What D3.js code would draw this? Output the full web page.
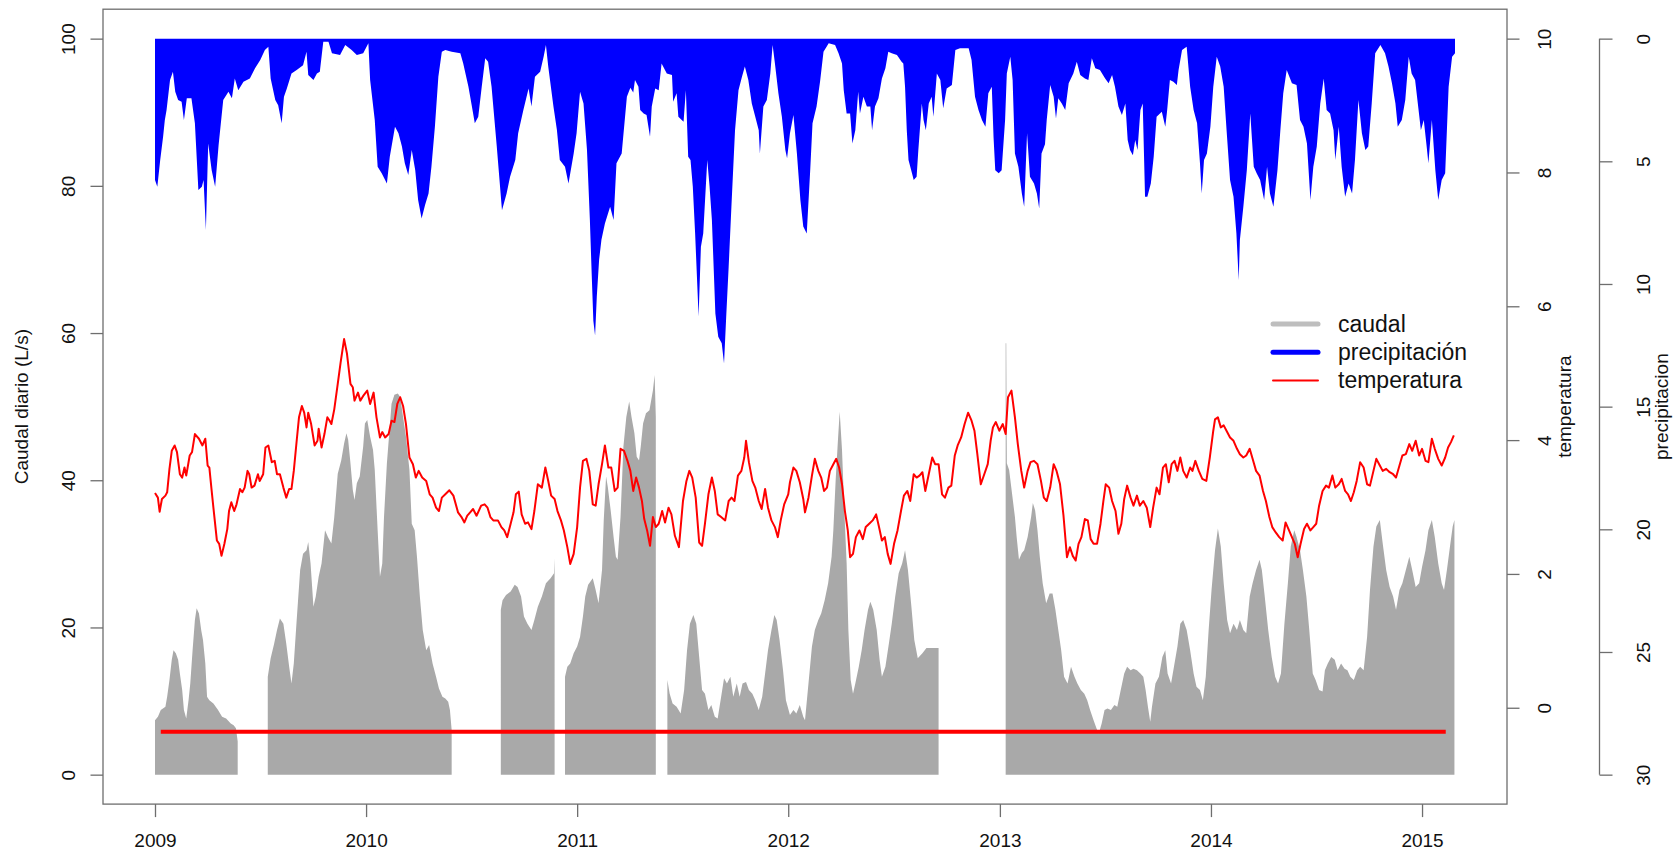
<!DOCTYPE html>
<html>
<head>
<meta charset="utf-8">
<script src="https://d3js.org/d3.v7.min.js"></script>
<style>
    body { margin: 0; background: #fff; }
    svg text { font-family: "Liberation Sans", Arial, Helvetica, sans-serif; font-size: 19px; fill: #111; }
</style>
</head>
<body>
<svg id="grafico" width="1680" height="859"></svg>
<script>
    // series diarias, indexadas por dia desde 2009-01-01
    var anios = [2009, 2010, 2011, 2012, 2013, 2014, 2015];
    var ticksCaudal = [0, 20, 40, 60, 80, 100];
    var ticksTemp = [0, 2, 4, 6, 8, 10];
    var ticksPrecip = [0, 5, 10, 15, 20, 25, 30];

    var diasPrecip = [0, 4, 9, 14, 17, 20, 26, 31, 35, 40, 46, 50, 55, 63, 69, 75, 81, 84, 88, 92, 98, 104, 110, 118, 127, 133, 138, 144, 153, 164, 173, 182, 190, 196, 200, 208, 213, 219, 223, 228, 236, 245, 256, 262, 265, 274, 280, 285, 291, 300, 306, 320, 329, 340, 349, 360, 369, 372, 380, 385, 392, 401, 406, 415, 421, 427, 432, 438, 444, 450, 455, 461, 467, 473, 478, 484, 490, 496, 502, 513, 528, 533, 542, 548, 553, 559, 565, 571, 576, 582, 591, 600, 608, 614, 623, 628, 637, 646, 651, 657, 666, 672, 676, 680, 689, 695, 700, 709, 715, 724, 729, 735, 741, 747, 752, 755, 758, 761, 764, 768, 772, 778, 787, 793, 798, 807, 816, 822, 827, 830, 836, 839, 845, 850, 856, 859, 865, 871, 876, 885, 894, 896, 902, 905, 914, 918, 922, 926, 930, 934, 940, 944, 948, 955, 959, 963, 969, 974, 980, 984, 988, 992, 997, 1003, 1009, 1015, 1020, 1026, 1032, 1038, 1044, 1046, 1052, 1058, 1064, 1068, 1072, 1078, 1084, 1090, 1093, 1098, 1104, 1110, 1116, 1121, 1127, 1133, 1137, 1144, 1150, 1156, 1165, 1176, 1182, 1188, 1191, 1196, 1202, 1206, 1211, 1216, 1219, 1225, 1231, 1237, 1240, 1245, 1251, 1257, 1263, 1268, 1274, 1283, 1291, 1294, 1297, 1300, 1303, 1309, 1312, 1317, 1320, 1326, 1329, 1333, 1338, 1343, 1346, 1352, 1358, 1363, 1369, 1378, 1384, 1392, 1407, 1412, 1418, 1424, 1430, 1436, 1441, 1447, 1450, 1453, 1459, 1464, 1470, 1473, 1479, 1483, 1487, 1493, 1499, 1503, 1508, 1513, 1520, 1525, 1529, 1533, 1539, 1542, 1548, 1554, 1558, 1562, 1568, 1574, 1580, 1588, 1594, 1600, 1608, 1614, 1620, 1626, 1634, 1643, 1649, 1655, 1660, 1666, 1672, 1678, 1682, 1686, 1691, 1695, 1699, 1704, 1708, 1712, 1716, 1722, 1727, 1732, 1741, 1747, 1750, 1755, 1761, 1767, 1770, 1776, 1784, 1790, 1796, 1802, 1807, 1810, 1814, 1819, 1825, 1830, 1836, 1842, 1848, 1853, 1859, 1865, 1870, 1874, 1876, 1882, 1888, 1894, 1900, 1905, 1911, 1918, 1923, 1928, 1934, 1941, 1946, 1951, 1957, 1966, 1974, 1980, 1986, 1992, 1998, 2003, 2009, 2015, 2021, 2026, 2032, 2038, 2041, 2047, 2052, 2058, 2064, 2070, 2075, 2081, 2087, 2093, 2098, 2104, 2110, 2119, 2127, 2133, 2139, 2145, 2149, 2156, 2162, 2168, 2173, 2179, 2185, 2189, 2194, 2199, 2202, 2208, 2214, 2219, 2225, 2231, 2237, 2243, 2248];
    var precip = [5.76, 6.04, 4.95, 4.0, 3.32, 2.91, 1.69, 1.35, 2.16, 2.5, 2.57, 3.32, 2.43, 2.43, 3.45, 6.17, 6.04, 5.76, 7.8, 4.27, 5.36, 6.04, 4.34, 2.5, 2.16, 2.43, 1.62, 2.1, 1.76, 1.62, 1.21, 0.87, 0.46, 0.33, 1.62, 2.5, 2.71, 3.45, 2.37, 2.03, 1.42, 1.28, 1.08, 0.53, 1.48, 1.69, 1.42, 1.35, 0.13, 0.13, 0.6, 0.67, 0.26, 0.46, 0.67, 0.6, 0.19, 1.69, 3.32, 5.22, 5.49, 5.9, 4.81, 3.59, 3.86, 4.4, 5.08, 5.56, 4.54, 5.36, 6.58, 7.33, 6.78, 6.31, 5.22, 3.59, 1.55, 0.53, 0.46, 0.53, 0.6, 1.01, 1.96, 2.77, 3.45, 3.18, 1.96, 0.8, 0.94, 1.96, 4.4, 6.99, 6.31, 5.63, 4.95, 3.86, 2.91, 2.03, 2.77, 1.55, 1.35, 0.74, 0.26, 1.14, 2.77, 3.72, 4.95, 5.22, 5.9, 4.68, 3.86, 2.16, 2.64, 4.54, 7.39, 9.5, 11.5, 12.1, 10.5, 9.0, 8.2, 7.53, 6.85, 7.39, 5.08, 4.68, 2.37, 2.0, 2.2, 1.69, 1.96, 2.91, 3.05, 3.11, 4.0, 2.77, 2.03, 2.1, 1.01, 1.42, 1.48, 2.57, 2.23, 3.18, 3.39, 2.1, 4.81, 4.95, 6.04, 7.94, 11.33, 8.48, 7.94, 4.95, 6.04, 7.39, 11.2, 12.15, 12.42, 13.24, 11.2, 9.3, 6.72, 3.73, 2.1, 1.55, 1.14, 1.69, 2.64, 3.18, 3.73, 4.68, 2.77, 2.5, 1.42, 0.26, 1.01, 2.23, 3.18, 4.54, 4.88, 3.86, 3.11, 4.68, 6.58, 7.66, 7.94, 5.36, 3.45, 2.77, 1.76, 0.53, 0.19, 0.26, 0.6, 1.01, 2.1, 3.05, 3.05, 4.27, 3.73, 2.16, 3.05, 2.37, 2.77, 2.77, 3.73, 2.77, 2.43, 1.62, 1.21, 0.53, 0.6, 0.67, 0.94, 1.01, 1.96, 3.73, 4.95, 5.49, 5.76, 5.63, 4.54, 2.64, 3.32, 3.73, 2.64, 2.37, 3.18, 1.42, 1.69, 2.84, 2.03, 1.89, 0.46, 0.39, 0.39, 0.87, 2.37, 2.91, 3.32, 3.59, 2.23, 1.96, 4.0, 5.36, 5.49, 5.36, 3.32, 1.42, 0.74, 1.69, 4.68, 5.22, 6.31, 6.85, 3.86, 5.63, 5.9, 6.31, 6.92, 4.68, 4.3, 3.32, 1.89, 2.37, 3.25, 2.43, 2.64, 2.91, 1.82, 1.42, 0.94, 1.48, 1.62, 1.69, 0.8, 1.21, 1.28, 1.62, 1.82, 1.48, 1.96, 2.77, 3.11, 2.64, 4.13, 4.54, 4.75, 4.13, 4.54, 2.91, 2.64, 6.44, 6.44, 5.9, 4.81, 3.18, 2.98, 3.59, 2.98, 1.69, 1.76, 1.89, 1.28, 0.46, 0.33, 1.96, 2.91, 3.45, 5.08, 6.31, 4.95, 4.68, 3.59, 1.96, 0.74, 1.14, 1.96, 3.73, 5.76, 6.44, 7.94, 9.84, 8.21, 6.85, 5.36, 3.05, 5.22, 5.49, 5.76, 6.58, 5.22, 6.31, 6.85, 5.36, 3.73, 2.23, 1.28, 1.82, 1.89, 3.32, 3.59, 4.27, 6.58, 5.22, 4.4, 2.64, 1.62, 2.91, 3.05, 3.73, 4.95, 3.59, 5.22, 6.44, 5.9, 6.31, 4.95, 2.5, 3.86, 4.54, 4.4, 2.64, 0.6, 0.26, 0.6, 1.14, 1.82, 2.64, 3.59, 3.32, 2.5, 0.74, 1.42, 1.69, 2.91, 3.73, 3.32, 4.4, 5.08, 3.32, 5.36, 6.58, 5.76, 5.49, 1.96, 0.74, 0.6];

    var diasTemp = [0, 5, 8, 12, 18, 21, 25, 29, 34, 38, 43, 47, 51, 54, 60, 64, 69, 76, 82, 87, 91, 94, 98, 101, 107, 111, 115, 120, 125, 128, 132, 137, 141, 147, 151, 155, 160, 163, 167, 172, 178, 181, 187, 191, 196, 202, 207, 211, 216, 222, 227, 232, 236, 240, 245, 249, 254, 258, 262, 265, 270, 276, 281, 283, 288, 293, 298, 302, 305, 310, 316, 321, 327, 332, 338, 342, 345, 351, 355, 360, 367, 372, 378, 383, 389, 393, 398, 404, 409, 414, 419, 424, 429, 434, 440, 446, 451, 456, 462, 469, 475, 480, 486, 491, 496, 502, 509, 516, 524, 530, 535, 540, 545, 550, 556, 564, 570, 575, 580, 585, 593, 599, 604, 609, 615, 620, 624, 629, 634, 640, 645, 651, 656, 662, 669, 675, 680, 685, 691, 696, 702, 707, 713, 718, 724, 730, 735, 740, 746, 751, 757, 762, 767, 773, 778, 784, 789, 795, 800, 805, 811, 817, 822, 827, 832, 837, 842, 846, 851, 856, 861, 866, 871, 877, 882, 888, 893, 899, 906, 913, 919, 924, 929, 935, 941, 946, 951, 957, 963, 968, 973, 979, 986, 992, 997, 1002, 1008, 1014, 1019, 1022, 1027, 1033, 1038, 1044, 1049, 1055, 1060, 1066, 1072, 1077, 1082, 1088, 1095, 1098, 1104, 1109, 1115, 1121, 1124, 1130, 1136, 1141, 1147, 1152, 1157, 1162, 1167, 1173, 1178, 1183, 1188, 1193, 1198, 1202, 1207, 1212, 1218, 1224, 1229, 1235, 1241, 1247, 1252, 1257, 1262, 1267, 1272, 1278, 1284, 1290, 1295, 1301, 1306, 1312, 1317, 1322, 1327, 1332, 1338, 1344, 1349, 1355, 1361, 1366, 1372, 1377, 1383, 1388, 1394, 1400, 1406, 1412, 1417, 1422, 1428, 1434, 1440, 1445, 1449, 1454, 1460, 1466, 1471, 1475, 1481, 1487, 1492, 1498, 1503, 1509, 1514, 1520, 1526, 1532, 1537, 1542, 1548, 1554, 1559, 1565, 1571, 1577, 1582, 1587, 1592, 1597, 1602, 1608, 1613, 1618, 1623, 1629, 1635, 1640, 1644, 1650, 1655, 1661, 1666, 1671, 1676, 1681, 1687, 1692, 1698, 1703, 1709, 1715, 1721, 1726, 1732, 1737, 1743, 1748, 1753, 1758, 1763, 1768, 1773, 1778, 1784, 1790, 1794, 1799, 1805, 1811, 1818, 1824, 1830, 1833, 1838, 1843, 1848, 1854, 1859, 1865, 1871, 1876, 1882, 1887, 1893, 1898, 1904, 1910, 1916, 1921, 1927, 1932, 1938, 1944, 1950, 1955, 1961, 1966, 1971, 1976, 1981, 1987, 1992, 1998, 2003, 2008, 2013, 2019, 2025, 2030, 2036, 2041, 2047, 2052, 2058, 2063, 2068, 2073, 2078, 2084, 2090, 2096, 2101, 2107, 2112, 2118, 2123, 2129, 2135, 2141, 2146, 2152, 2157, 2163, 2169, 2174, 2180, 2186, 2191, 2197, 2202, 2208, 2213, 2219, 2225, 2231, 2236, 2241, 2246];
    var temp = [3.21, 3.14, 2.93, 3.12, 3.17, 3.22, 3.57, 3.84, 3.92, 3.82, 3.49, 3.44, 3.59, 3.47, 3.77, 3.82, 4.09, 4.02, 3.92, 4.02, 3.62, 3.59, 3.24, 2.99, 2.50, 2.45, 2.27, 2.45, 2.67, 2.94, 3.07, 2.94, 3.04, 3.27, 3.22, 3.29, 3.54, 3.49, 3.29, 3.32, 3.49, 3.39, 3.49, 3.89, 3.92, 3.67, 3.69, 3.49, 3.49, 3.29, 3.14, 3.27, 3.27, 3.54, 3.99, 4.34, 4.51, 4.41, 4.19, 4.41, 4.24, 3.92, 3.99, 4.17, 3.89, 4.09, 4.34, 4.29, 4.24, 4.46, 4.84, 5.16, 5.51, 5.29, 4.84, 4.79, 4.59, 4.71, 4.59, 4.66, 4.74, 4.54, 4.71, 4.34, 4.04, 4.12, 4.04, 4.09, 4.29, 4.27, 4.54, 4.64, 4.51, 4.24, 3.74, 3.64, 3.44, 3.54, 3.44, 3.39, 3.19, 3.14, 2.99, 2.94, 3.14, 3.19, 3.25, 3.17, 2.92, 2.85, 2.77, 2.87, 2.92, 2.97, 2.87, 3.02, 3.04, 2.99, 2.85, 2.80, 2.80, 2.70, 2.65, 2.55, 2.75, 2.92, 3.19, 3.23, 2.89, 2.75, 2.77, 2.67, 2.94, 3.34, 3.29, 3.59, 3.39, 3.17, 3.12, 2.94, 2.80, 2.65, 2.40, 2.15, 2.30, 2.70, 3.29, 3.69, 3.72, 3.54, 3.04, 3.02, 3.34, 3.64, 3.92, 3.59, 3.59, 3.24, 3.29, 3.87, 3.84, 3.69, 3.54, 3.24, 3.44, 3.29, 3.09, 2.82, 2.65, 2.42, 2.85, 2.70, 2.75, 2.94, 2.77, 2.99, 2.89, 2.57, 2.40, 3.09, 3.39, 3.54, 3.44, 3.14, 2.47, 2.42, 2.75, 3.19, 3.44, 3.24, 2.89, 2.85, 2.80, 3.09, 3.14, 3.09, 3.47, 3.54, 3.74, 3.99, 3.67, 3.39, 3.29, 3.09, 2.97, 3.27, 2.99, 2.80, 2.70, 2.55, 2.80, 3.04, 3.19, 3.37, 3.59, 3.54, 3.37, 3.12, 2.92, 3.14, 3.47, 3.72, 3.54, 3.44, 3.24, 3.29, 3.54, 3.64, 3.72, 3.59, 3.34, 2.94, 2.65, 2.25, 2.30, 2.55, 2.65, 2.52, 2.70, 2.75, 2.80, 2.89, 2.70, 2.50, 2.55, 2.30, 2.15, 2.45, 2.65, 2.94, 3.17, 3.24, 3.09, 3.49, 3.44, 3.47, 3.52, 3.24, 3.49, 3.74, 3.64, 3.64, 3.19, 3.14, 3.29, 3.32, 3.77, 3.92, 4.04, 4.24, 4.41, 4.29, 4.14, 3.79, 3.34, 3.49, 3.64, 3.99, 4.19, 4.27, 4.14, 4.24, 4.09, 4.64, 4.74, 4.34, 3.94, 3.54, 3.29, 3.54, 3.67, 3.69, 3.64, 3.39, 3.14, 3.09, 3.29, 3.64, 3.54, 3.34, 2.87, 2.25, 2.40, 2.27, 2.20, 2.45, 2.55, 2.82, 2.80, 2.52, 2.45, 2.45, 2.75, 3.09, 3.34, 3.29, 3.09, 2.94, 2.60, 2.75, 3.12, 3.32, 3.14, 3.02, 3.17, 3.02, 3.09, 2.99, 2.70, 2.99, 3.29, 3.19, 3.59, 3.64, 3.37, 3.64, 3.69, 3.54, 3.74, 3.54, 3.44, 3.59, 3.54, 3.69, 3.54, 3.42, 3.39, 3.74, 4.14, 4.31, 4.34, 4.19, 4.22, 4.12, 4.04, 3.99, 3.87, 3.79, 3.74, 3.77, 3.87, 3.72, 3.54, 3.47, 3.24, 3.09, 2.85, 2.70, 2.62, 2.55, 2.50, 2.77, 2.65, 2.55, 2.45, 2.25, 2.45, 2.67, 2.75, 2.65, 2.70, 2.75, 3.02, 3.24, 3.32, 3.29, 3.47, 3.29, 3.34, 3.42, 3.24, 3.19, 3.09, 3.22, 3.39, 3.67, 3.59, 3.34, 3.32, 3.54, 3.72, 3.62, 3.54, 3.57, 3.52, 3.49, 3.44, 3.62, 3.77, 3.79, 3.94, 3.84, 3.99, 3.77, 3.87, 3.69, 3.67, 4.02, 3.87, 3.72, 3.62, 3.74, 3.89, 3.97, 4.07];

    // null = dias sin datos de caudal
    var diasCaudal = [0, 5, 10, 18, 21, 25, 29, 32, 36, 40, 43, 47, 50, 54, 58, 61, 65, 69, 72, 76, 80, 83, 87, 90, 94, 101, 109, 116, 123, 131, 136, 140, 143, 144,
        195, 200, 206, 211, 216, 222, 227, 232, 236, 240, 245, 251, 256, 262, 265, 269, 274, 278, 283, 288, 294, 299, 305, 310, 316, 322, 327, 331, 334, 338, 342, 345, 349, 354, 360, 363, 367, 372, 377, 380, 385, 389, 393, 396, 401, 406, 409, 414, 420, 424, 429, 434, 440, 444, 449, 453, 458, 463, 469, 474, 480, 486, 491, 497, 502, 507, 510, 513, 515,
        598, 601, 607, 615, 622, 627, 633, 638, 644, 651, 656, 662, 669, 676, 684, 690, 691, 692,
        709, 713, 718, 724, 730, 735, 740, 744, 749, 757, 762, 767, 773, 776, 780, 783, 788, 793, 797, 800, 805, 810, 815, 820, 824, 829, 833, 837, 840, 844, 849, 855, 861, 864, 866, 867,
        886, 890, 895, 902, 909, 915, 920, 925, 931, 936, 941, 946, 951, 957, 962, 968, 973, 979, 984, 989, 995, 1000, 1006, 1011, 1016, 1022, 1027, 1033, 1038, 1044, 1050, 1055, 1060, 1066, 1071, 1075, 1080, 1086, 1091, 1098, 1104, 1109, 1115, 1121, 1124, 1130, 1136, 1141, 1147, 1152, 1158, 1164, 1170, 1173, 1177, 1181, 1184, 1188, 1192, 1196, 1199, 1203, 1207, 1211, 1217, 1222, 1227, 1233, 1237, 1242, 1248, 1253, 1257, 1263, 1269, 1274, 1280, 1286, 1292, 1297, 1302, 1308, 1313, 1319, 1327, 1334, 1355, 1356,
        1471, 1472, 1473, 1477, 1482, 1487, 1490, 1494, 1499, 1503, 1509, 1515, 1518, 1522, 1526, 1530, 1535, 1541, 1547, 1552, 1557, 1562, 1567, 1572, 1578, 1584, 1590, 1595, 1601, 1607, 1612, 1617, 1623, 1628, 1632, 1637, 1642, 1647, 1653, 1659, 1664, 1670, 1676, 1681, 1687, 1692, 1698, 1704, 1709, 1713, 1717, 1721, 1724, 1730, 1736, 1742, 1747, 1751, 1757, 1762, 1768, 1773, 1778, 1784, 1790, 1796, 1801, 1807, 1812, 1817, 1822, 1827, 1833, 1838, 1843, 1848, 1854, 1859, 1865, 1871, 1876, 1882, 1887, 1893, 1898, 1904, 1910, 1914, 1919, 1925, 1931, 1937, 1942, 1947, 1953, 1959, 1964, 1970, 1974, 1980, 1985, 1991, 1996, 2002, 2007, 2013, 2019, 2023, 2028, 2034, 2040, 2045, 2051, 2057, 2062, 2067, 2073, 2079, 2084, 2090, 2096, 2101, 2107, 2112, 2118, 2123, 2129, 2135, 2141, 2146, 2152, 2157, 2163, 2169, 2174, 2180, 2186, 2191, 2197, 2202, 2208, 2213, 2219, 2225, 2229, 2234, 2240, 2244, 2247];
    var caudal = [7.4, 7.86, 8.78, 9.23, 10.6, 12.85, 15.6, 16.9, 16.5, 15.6, 13.75, 11.5, 8.78, 7.64, 10.1, 12.4, 16.9, 21.0, 22.6, 21.9, 19.6, 18.3, 15.1, 10.6, 10.1, 9.68, 8.78, 7.86, 7.64, 6.95, 6.7, 6.3, 4.5, null,
        13.3, 15.8, 17.8, 19.65, 21.2, 20.5, 17.8, 14.65, 12.4, 15.1, 21.0, 27.8, 30.0, 30.5, 31.6, 28.7, 22.8, 24.2, 26.9, 28.7, 33.2, 32.3, 31.4, 35.0, 40.9, 42.7, 45.0, 46.4, 45.5, 42.3, 38.7, 37.3, 39.6, 40.5, 44.6, 47.7, 48.2, 45.9, 44.1, 41.4, 33.2, 26.9, 28.7, 35.0, 42.3, 47.3, 50.4, 51.6, 51.8, 51.3, 48.6, 45.9, 41.4, 34.1, 33.2, 29.6, 24.2, 19.65, 16.9, 17.6, 15.1, 13.3, 11.7, 10.6, 10.35, 9.9, 8.78, 6.06, null,
        22.4, 23.7, 24.4, 24.9, 25.8, 25.5, 24.2, 21.5, 20.5, 19.65, 21.0, 22.8, 24.2, 26.0, 26.7, 27.35, 29.4, null,
        13.3, 14.65, 15.1, 16.5, 17.4, 18.7, 21.5, 24.2, 25.8, 26.7, 25.1, 23.3, 27.8, 34.6, 40.5, 39.1, 35.9, 32.3, 29.6, 29.2, 35.0, 44.6, 48.6, 50.7, 48.6, 46.4, 43.2, 42.7, 44.6, 47.7, 49.1, 49.5, 52.2, 54.3, 48.6, null,
        12.85, 11.0, 9.68, 9.23, 8.3, 11.5, 16.9, 20.5, 21.7, 20.5, 16.0, 11.5, 11.0, 8.78, 9.45, 7.86, 7.64, 10.6, 13.1, 12.4, 13.3, 10.6, 12.4, 10.6, 12.4, 12.6, 11.5, 11.0, 10.1, 8.78, 10.6, 13.75, 16.9, 19.65, 21.7, 21.0, 18.3, 14.2, 10.1, 8.1, 8.78, 8.3, 9.45, 7.86, 7.4, 12.4, 17.4, 19.65, 21.0, 21.9, 23.7, 26.0, 29.6, 33.2, 40.0, 45.5, 49.3, 44.1, 35.9, 28.7, 19.65, 12.85, 11.0, 12.4, 14.65, 16.9, 19.65, 22.4, 23.5, 22.4, 19.65, 15.6, 13.3, 14.65, 17.8, 20.5, 24.2, 27.35, 28.7, 30.5, 27.8, 22.8, 18.3, 15.8, 16.5, 17.2, 17.2, null,
        58.6, 58.6, 42.3, 41.4, 38.2, 35.0, 32.3, 29.2, 30.1, 30.5, 32.3, 35.0, 36.9, 35.9, 33.2, 29.6, 26.0, 23.3, 24.6, 24.6, 22.4, 19.65, 16.9, 13.3, 12.4, 14.65, 13.3, 12.4, 11.5, 11.0, 10.1, 8.78, 7.4, 6.3, 5.6, 6.95, 8.78, 9.0, 8.78, 9.45, 9.23, 11.5, 13.75, 14.65, 14.2, 14.4, 14.2, 13.75, 13.3, 11.5, 9.23, 7.2, 9.23, 12.4, 13.3, 16.0, 16.9, 13.75, 12.4, 14.65, 17.4, 20.5, 21.0, 19.65, 16.9, 13.75, 11.95, 11.5, 10.1, 13.3, 19.65, 25.1, 30.5, 33.45, 31.0, 26.0, 21.0, 19.2, 20.5, 19.65, 21.0, 19.65, 19.2, 24.2, 26.0, 27.8, 29.2, 27.8, 24.2, 19.65, 16.0, 13.3, 12.4, 13.75, 20.5, 26.0, 31.0, 33.2, 32.3, 30.5, 27.8, 24.2, 19.65, 13.75, 12.85, 11.5, 11.3, 14.2, 15.1, 16.0, 15.6, 14.2, 15.1, 14.4, 14.2, 13.3, 12.85, 14.2, 14.65, 14.2, 18.7, 25.1, 31.0, 33.7, 34.6, 31.4, 27.8, 25.5, 24.2, 22.4, 25.1, 26.0, 27.8, 29.6, 27.8, 25.5, 26.0, 28.2, 30.5, 33.2, 34.6, 32.3, 28.7, 26.0, 25.1, 27.8, 31.4, 33.7, 34.6];

    // linea roja horizontal (caudal de referencia)
    var caudalReferencia = 5.83;
    var diasReferencia = [10, 2232];

    var leyendaTextos = ["caudal", "precipitación", "temperatura"];
    var leyendaColores = ["#bebebe", "#0000ff", "#ff0000"];
    var leyendaGrosor = [5, 5, 2];

    var svg = d3.select("#grafico");
    var izq = 103, der = 1507, arriba = 9.2, abajo = 804.1;

    var inicio = Date.UTC(2009, 0, 1);
    function fecha(d) {
        return new Date(inicio + d * 864e5);
    }

    // R agrega un 4% a cada lado del rango
    function extender(a, b) {
        var e = (b - a) * 0.04;
        return [a - e, b + e];
    }

    var rangoDias = extender(0, 2248);
    var x = d3.scaleUtc()
        .domain([fecha(rangoDias[0]), fecha(rangoDias[1])])
        .range([izq, der]);
    var yCaudal = d3.scaleLinear().domain(extender(0, 100)).range([abajo, arriba]);
    var yTemp = d3.scaleLinear().domain(extender(-1, 10)).range([abajo, arriba]);
    var yPrecip = d3.scaleLinear().domain(extender(30, 0)).range([abajo, arriba]);

    function serie(dias, valores) {
        return dias.map(function (d, i) {
            return {d: d, v: valores[i]};
        });
    }

    // caudal (area gris con huecos)
    var areaCaudal = d3.area()
        .defined(function (p) { return p.v !== null; })
        .x(function (p) { return x(fecha(p.d)); })
        .y0(yCaudal(0))
        .y1(function (p) { return yCaudal(p.v); });

    svg.append("path")
        .datum(serie(diasCaudal, caudal))
        .attr("d", areaCaudal)
        .attr("fill", "#a9a9a9");

    // precipitacion colgando desde arriba
    var areaPrecip = d3.area()
        .x(function (p) { return x(fecha(p.d)); })
        .y0(yPrecip(0))
        .y1(function (p) { return yPrecip(p.v); });

    svg.append("path")
        .datum(serie(diasPrecip, precip))
        .attr("d", areaPrecip)
        .attr("fill", "#0000ff");

    var lineaTemp = d3.line()
        .x(function (p) { return x(fecha(p.d)); })
        .y(function (p) { return yTemp(p.v); });

    svg.append("path")
        .datum(serie(diasTemp, temp))
        .attr("d", lineaTemp)
        .attr("fill", "none")
        .attr("stroke", "#ff0000")
        .attr("stroke-width", 2)
        .attr("stroke-linejoin", "round");

    svg.append("line")
        .attr("x1", x(fecha(diasReferencia[0])))
        .attr("x2", x(fecha(diasReferencia[1])))
        .attr("y1", yCaudal(caudalReferencia))
        .attr("y2", yCaudal(caudalReferencia))
        .attr("stroke", "#ff0000")
        .attr("stroke-width", 4);

    // caja
    svg.append("rect")
        .attr("x", izq).attr("y", arriba)
        .attr("width", der - izq).attr("height", abajo - arriba)
        .attr("fill", "none")
        .attr("stroke", "#6e6e6e")
        .attr("stroke-width", 1.3);

    function estiloEje(g) {
        g.select(".domain").remove();
        g.selectAll(".tick line").attr("stroke", "#6e6e6e").attr("stroke-width", 1.3);
        g.selectAll(".tick text").attr("fill", "#111").style("font-size", "19px")
            .attr("font-family", null);
    }

    // eje x
    var ejeX = svg.append("g")
        .attr("transform", "translate(0," + abajo + ")")
        .call(d3.axisBottom(x)
            .tickValues(anios.map(function (a) { return new Date(Date.UTC(a, 0, 1)); }))
            .tickFormat(d3.utcFormat("%Y"))
            .tickSize(13)
            .tickPadding(16.5));
    estiloEje(ejeX);

    // eje caudal
    var ejeCaudal = svg.append("g")
        .attr("transform", "translate(" + izq + ",0)")
        .call(d3.axisLeft(yCaudal).tickValues(ticksCaudal).tickSize(12.5));
    estiloEje(ejeCaudal);
    ejeCaudal.selectAll(".tick text")
        .attr("x", null).attr("dy", null)
        .attr("text-anchor", "middle")
        .attr("transform", "translate(-28,0) rotate(-90)");

    // eje temperatura
    var ejeTemp = svg.append("g")
        .attr("transform", "translate(" + der + ",0)")
        .call(d3.axisRight(yTemp).tickValues(ticksTemp).tickSize(12.5));
    estiloEje(ejeTemp);
    ejeTemp.selectAll(".tick text")
        .attr("x", null).attr("dy", null)
        .attr("text-anchor", "middle")
        .attr("transform", "translate(44,0) rotate(-90)");

    // eje precipitacion
    var xPrecip = 1599.5;
    var ejePrecip = svg.append("g")
        .attr("transform", "translate(" + xPrecip + ",0)")
        .call(d3.axisRight(yPrecip).tickValues(ticksPrecip).tickSize(13));
    estiloEje(ejePrecip);
    ejePrecip.append("line")
        .attr("y1", yPrecip(0)).attr("y2", yPrecip(30))
        .attr("stroke", "#6e6e6e").attr("stroke-width", 1.3);
    ejePrecip.selectAll(".tick text")
        .attr("x", null).attr("dy", null)
        .attr("text-anchor", "middle")
        .attr("transform", "translate(50.5,0) rotate(-90)");

    // titulos
    var centroY = (arriba + abajo) / 2;
    function titulo(texto, xBase) {
        svg.append("text")
            .attr("text-anchor", "middle")
            .attr("transform", "translate(" + xBase + "," + centroY + ") rotate(-90)")
            .text(texto);
    }
    titulo("Caudal diario (L/s)", 28);
    titulo("temperatura", 1571);
    titulo("precipitacion", 1668);

    // leyenda (texto algo mas grande que los ejes)
    var leyenda = svg.append("g");
    leyendaTextos.forEach(function (t, i) {
        var yl = 324 + i * 28.2;
        leyenda.append("line")
            .attr("x1", 1273).attr("x2", 1318)
            .attr("y1", yl).attr("y2", yl)
            .attr("stroke", leyendaColores[i])
            .attr("stroke-width", leyendaGrosor[i])
            .attr("stroke-linecap", "round");
        leyenda.append("text")
            .attr("x", 1338).attr("y", yl + 8)
            .style("font-size", "23px")
            .text(t);
    });
</script>
</body>
</html>
